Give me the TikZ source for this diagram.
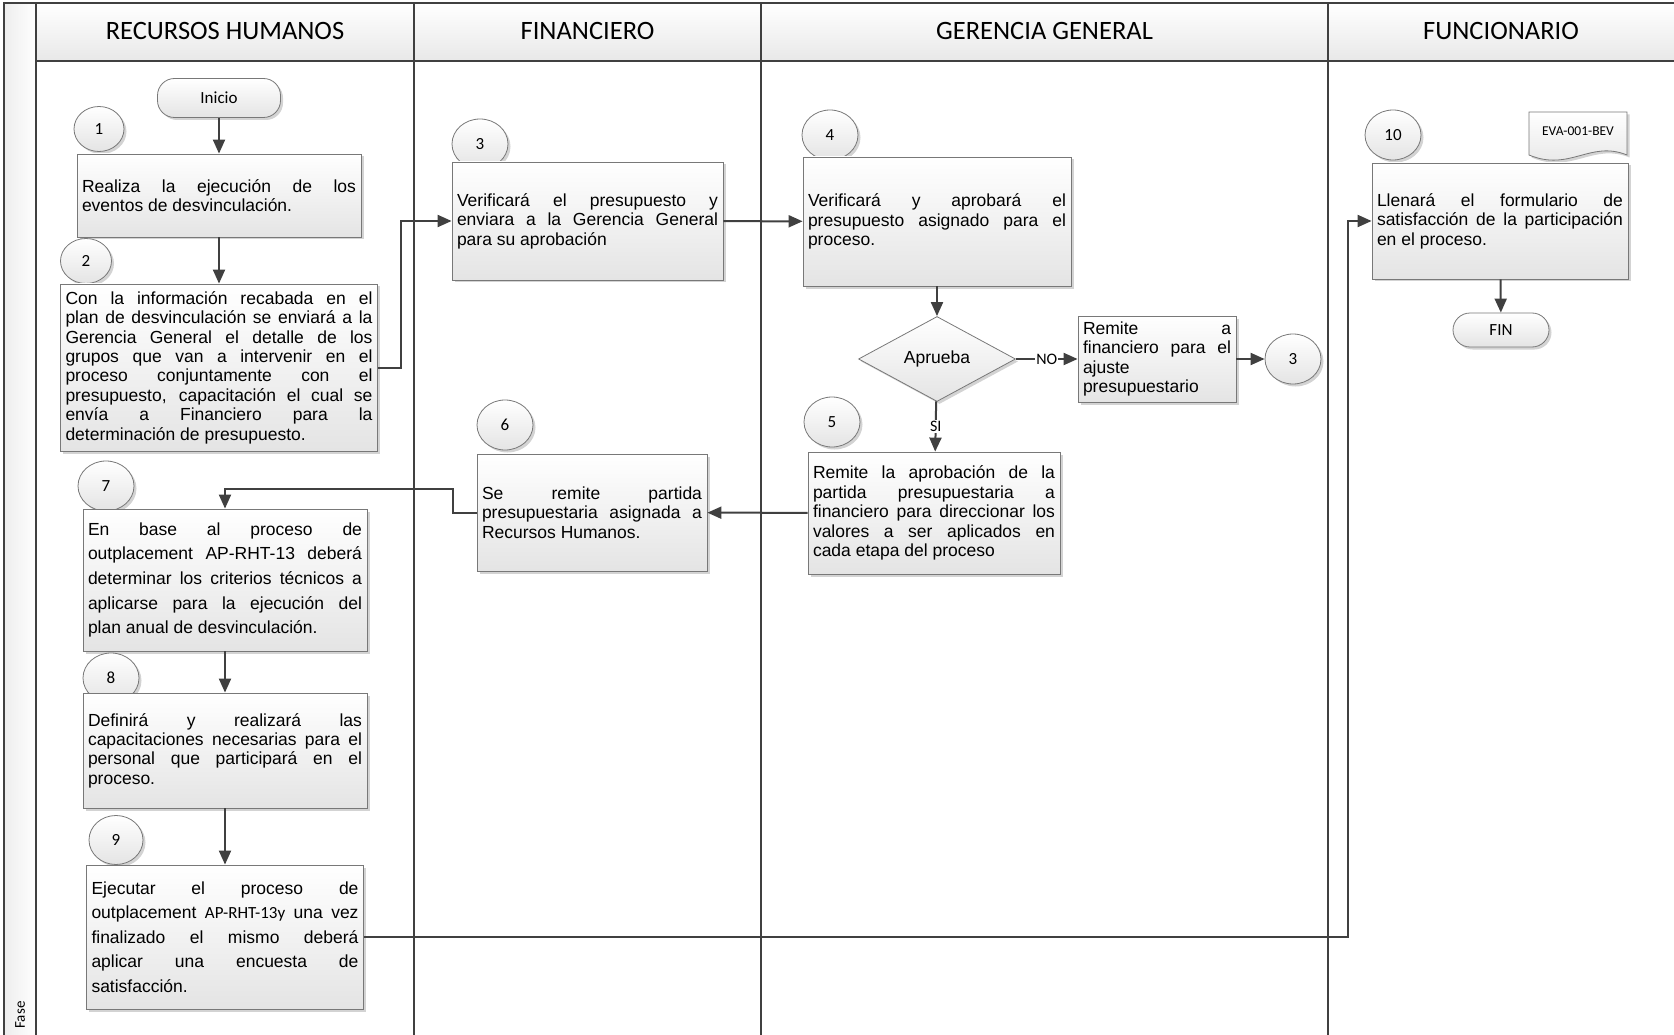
\documentclass[tikz,border=0pt]{standalone}
\usepackage{fontspec}
\setmainfont{Liberation Sans}
\newfontfamily\calibri{Carlito}
\usepackage{tikz}
\usetikzlibrary{arrows.meta,positioning,calc,shapes.geometric,shadows}
\definecolor{linegray}{RGB}{64,64,64}
\definecolor{boxgray}{RGB}{120,120,120}
\definecolor{fillgray}{RGB}{228,228,228}
\tolerance=10000
\hyphenpenalty=10000
\parindent=0pt

\begin{document}
\begin{tikzpicture}[
    x=1pt, y=-1pt,
    lane/.style={draw=linegray, line width=1.8pt},
    head/.style={font=\calibri\fontsize{26.5}{30}\selectfont},
    shade/.style={draw=boxgray, line width=0.8pt, top color=white, bottom color=fillgray,
        drop shadow={shadow xshift=2.5pt, shadow yshift=-2.5pt, opacity=0.35}},
    stepbox/.style={shade, align=justify, inner xsep=5pt, inner ysep=2pt,
        font=\fontsize{17.5}{19.4}\selectfont},
    num/.style={shade, ellipse, inner sep=0pt, minimum width=56pt, minimum height=50pt,
        font=\calibri\fontsize{17}{19}\selectfont},
    term/.style={shade, rounded corners=17pt, inner sep=0pt, font=\calibri\fontsize{17}{19}\selectfont},
    conn/.style={draw=linegray, line width=2pt, ->},
    lbl/.style={fill=white, inner sep=1pt, font=\calibri\fontsize{16}{18}\selectfont},
    >={Triangle[length=14pt,width=12pt]}
]
\useasboundingbox (0,0) rectangle (1674,1035);

% Lanes
\fill[left color=black!7, right color=white] (4,3) rectangle (36,1035);
\fill[top color=white, bottom color=black!9] (36,3) rectangle (1674,61);
\draw[lane] (4,1035) -- (4,3) -- (1674,3);
\draw[lane] (36,3) -- (36,1035);
\draw[lane] (36,61) -- (1674,61);
\foreach \x in {414,761,1328}
    \draw[lane] (\x,3) -- (\x,1035);

\node[head] (hRH) at (225,31) {RECURSOS HUMANOS};
\node[head] (hFIN) at (587.5,31) {FINANCIERO};
\node[head] (hGG) at (1044.5,31) {GERENCIA GENERAL};
\node[head] (hFUN) at (1501,31) {FUNCIONARIO};
\node[rotate=90, font=\calibri\fontsize{15}{17}\selectfont] (fase) at (20,1015) {Fase};

% Recursos Humanos
\node[term, minimum width=123pt, minimum height=39pt] (inicio) at (219,98) {Inicio};
\node[num, minimum width=50pt, minimum height=45pt] (c1) at (99,129) {1};
\node[stepbox, text width=274pt, minimum height=83pt] (b1) at (219,195.5)
    {Realiza la ejecución de los\linebreak eventos de desvinculación.};
\node[num, minimum width=51pt, minimum height=45pt] (c2) at (86,261) {2};
\node[stepbox, text width=307pt, minimum height=167pt] (b2) at (219,367.5)
    {Con la información recabada en el\linebreak
     plan de desvinculación se enviará a la\linebreak
     Gerencia General el detalle de los\linebreak
     grupos que van a intervenir en el\linebreak
     proceso conjuntamente con el\linebreak
     presupuesto, capacitación el cual se\linebreak
     envía a Financiero para la\linebreak
     determinación de presupuesto.};
\node[num] (c7) at (106,486) {7};
\node[stepbox, text width=274pt, minimum height=142pt, font=\fontsize{17.5}{24.6}\selectfont] (b7) at (225,580)
    {En base al proceso de\linebreak
     outplacement AP-RHT-13 deberá\linebreak
     determinar los criterios técnicos a\linebreak
     aplicarse para la ejecución del\linebreak
     plan anual de desvinculación.};
\node[num] (c8) at (111,678) {8};
\node[stepbox, text width=274pt, minimum height=115pt] (b8) at (225,750.5)
    {Definirá y realizará las\linebreak
     capacitaciones necesarias para el\linebreak
     personal que participará en el\linebreak
     proceso.};
\node[num, minimum width=54pt, minimum height=49pt] (c9) at (116,840) {9};
\node[stepbox, text width=267pt, minimum height=144pt, font=\fontsize{17.5}{24.6}\selectfont] (b9) at (225,937)
    {Ejecutar el proceso de\linebreak
     outplacement {\calibri\fontsize{17}{19}\selectfont AP-RHT-13y} una vez\linebreak
     finalizado el mismo deberá\linebreak
     aplicar una encuesta de\linebreak
     satisfacción.};

% Financiero
\node[num] (c3) at (480,144) {3};
\node[stepbox, text width=261pt, minimum height=118pt] (b3) at (587.5,221)
    {Verificará el presupuesto y\linebreak
     enviara a la Gerencia General\linebreak
     para su aprobación};
\node[num] (c6) at (505,425) {6};
\node[stepbox, text width=220pt, minimum height=117pt] (b6) at (592,512.5)
    {Se remite partida\linebreak
     presupuestaria asignada a\linebreak
     Recursos Humanos.};

% Gerencia General
\node[num] (c4) at (830,135) {4};
\node[stepbox, text width=258pt, minimum height=129pt] (b4) at (937,221.5)
    {Verificará y aprobará el\linebreak
     presupuesto asignado para el\linebreak
     proceso.};
\node[shade, diamond, aspect=1.85, inner sep=0pt, minimum width=157pt, minimum height=85pt,
    font=\fontsize{17.5}{19.4}\selectfont] (dec) at (937,359) {Aprueba};
\node[stepbox, text width=148pt, minimum height=86pt] (remite) at (1157,359)
    {Remite a\linebreak
     financiero para el\linebreak
     ajuste\linebreak
     presupuestario};
\node[num] (c3b) at (1293,359) {3};
\node[num] (c5) at (832,422) {5};
\node[stepbox, text width=242pt, minimum height=122pt] (b5) at (934,513)
    {Remite la aprobación de la\linebreak
     partida presupuestaria a\linebreak
     financiero para direccionar los\linebreak
     valores a ser aplicados en\linebreak
     cada etapa del proceso};

% Funcionario
\node[num] (c10) at (1393,135) {10};
\draw[shade] (1529,112) -- (1627,112) -- (1627,155)
    .. controls (1590,140) and (1570,172) .. (1529,155) -- cycle;
\node[font=\calibri\fontsize{13.5}{15}\selectfont] (doc) at (1578,131) {EVA-001-BEV};
\node[stepbox, text width=246pt, minimum height=116pt] (b10) at (1500,221)
    {Llenará el formulario de\linebreak
     satisfacción de la participación\linebreak
     en el proceso.};
\node[term, minimum width=96pt, minimum height=34pt] (fin) at (1501,330) {FIN};

% Flow
\draw[conn] (inicio) -- (b1);
\draw[conn] (b1) -- (b2);
\draw[conn] (b2.east) -- ++(23,0) |- (b3.west);
\draw[conn] (b3) -- (b4);
\draw[conn] (b4) -- (dec);
\draw[conn] (dec) -- node[lbl] {NO} (remite);
\draw[conn] (remite) -- (c3b);
\draw[conn] (dec) -- node[lbl] {SI} (b5);
\draw[conn] (b5) -- (b6);
\draw[conn] (b6.west) -- ++(-24,0) |- ([yshift=20pt]b7.north) -- (b7.north);
\draw[conn] (b7) -- (b8);
\draw[conn] (b8) -- (b9);
\draw[conn] (b9.east) -| ([xshift=-24pt]b10.west) -- (b10.west);
\draw[conn] (b10) -- (fin);

\end{tikzpicture}
\end{document}
